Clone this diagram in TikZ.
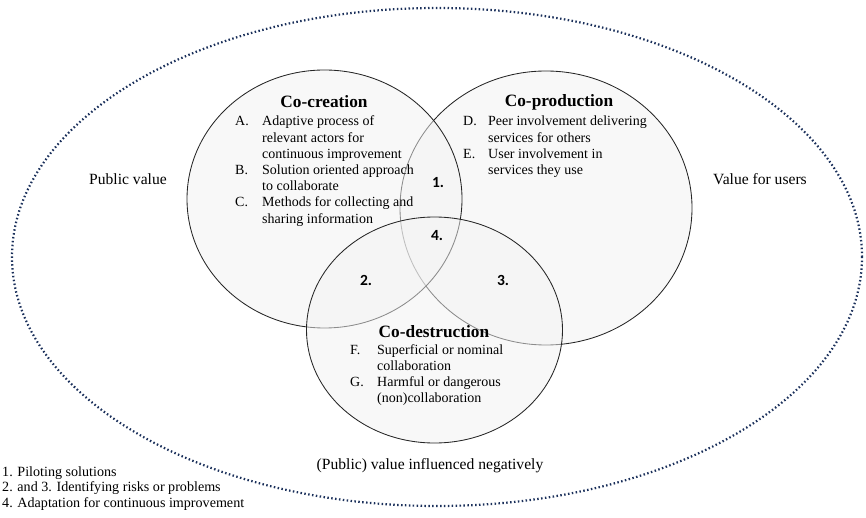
\documentclass[tikz,border=0pt]{standalone}
\usepackage{fontspec}
\setmainfont{Liberation Serif}
\newfontfamily\numfont{Carlito}
\definecolor{navyblue}{HTML}{1A2F5A}
\begin{document}
\begin{tikzpicture}[x=1pt,y=-1pt,
  venn/.style={draw=black!85, line width=0.85pt, fill=black!5, fill opacity=0.5},
  outerline/.style={draw=navyblue, line width=2.2pt, dash pattern=on 1.5pt off 2.4pt},
  vtitle/.style={font=\fontsize{17.3}{21}\selectfont\bfseries, anchor=base, inner sep=0},
  lst/.style={font=\fontsize{14}{16.2}\selectfont, anchor=base west, inner sep=0},
  lbl/.style={font=\fontsize{15.6}{18}\selectfont, anchor=base, inner sep=0},
  num/.style={font=\numfont\bfseries\fontsize{15.5}{18}\selectfont, inner sep=0}]
\useasboundingbox (0,0) rectangle (866,518);
\draw[outerline] (437,257) ellipse [x radius=425pt, y radius=249pt];
\draw[venn] (546,208) ellipse [x radius=146pt, y radius=137pt];
\draw[venn] (324.5,199) ellipse [x radius=137.5pt, y radius=129pt];
\draw[venn] (434.5,330) ellipse [x radius=128pt, y radius=113pt];

\node[vtitle] (tcre) at (324,108) {Co-creation};
\node[lst] (lcre) at (235,126) {\begin{tabular}[t]{@{}p{27pt}@{}l@{}}
A. & Adaptive process of\\
   & relevant actors for\\
   & continuous improvement\\
B. & Solution oriented approach\\
   & to collaborate\\
C. & Methods for collecting and\\
   & sharing information
\end{tabular}};

\node[vtitle] (tpro) at (559,107) {Co-production};
\node[lst] (lpro) at (463,126) {\begin{tabular}[t]{@{}p{25pt}@{}l@{}}
D. & Peer involvement delivering\\
   & services for others\\
E. & User involvement in\\
   & services they use
\end{tabular}};

\node[vtitle] (tdes) at (434,337) {Co-destruction};
\node[lst] (ldes) at (350,354) {\begin{tabular}[t]{@{}p{27pt}@{}l@{}}
F. & Superficial or nominal\\
   & collaboration\\
G. & Harmful or dangerous\\
   & (non)collaboration
\end{tabular}};

\node[num] (n1) at (438,183) {1.};
\node[num] (n4) at (437,236) {4.};
\node[num] (n2) at (366,280) {2.};
\node[num] (n3) at (503,280) {3.};

\node[lbl] (pv) at (128,185) {Public value};
\node[lbl] (vu) at (760,185) {Value for users};
\node[lbl] (neg) at (430,469) {(Public) value influenced negatively};

\node[lst, font=\fontsize{14.1}{15.7}\selectfont] (legend) at (2,476) {\begin{tabular}[t]{@{}l@{}}
1. Piloting solutions\\
2. and 3. Identifying risks or problems\\
4. Adaptation for continuous improvement
\end{tabular}};
\end{tikzpicture}
\end{document}
